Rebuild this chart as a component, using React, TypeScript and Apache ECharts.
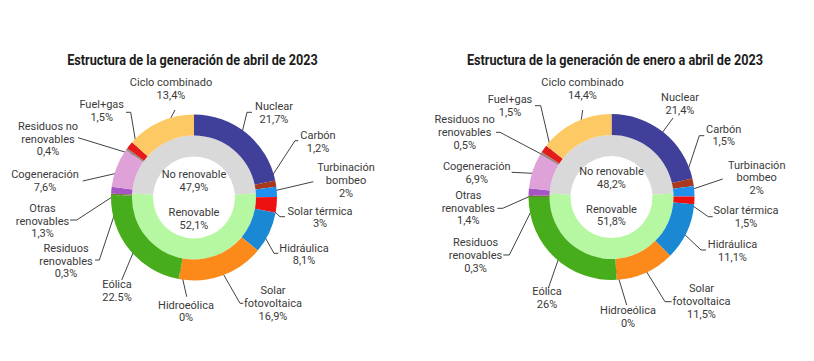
import React, { useEffect, useRef } from "react";
import * as echarts from "echarts";

// ---------- DATA ----------
const categories = [
  "Nuclear",
  "Carbón",
  "Turbinación bombeo",
  "Solar térmica",
  "Hidráulica",
  "Solar fotovoltaica",
  "Hidroeólica",
  "Eólica",
  "Residuos renovables",
  "Otras renovables",
  "Cogeneración",
  "Residuos no renovables",
  "Fuel+gas",
  "Ciclo combinado",
];
const aprilValues = [21.7, 1.2, 2, 3, 8.1, 16.9, 0, 22.5, 0.3, 1.3, 7.6, 0.4, 1.5, 13.4];
const janAprValues = [21.4, 1.5, 2, 1.5, 11.1, 11.5, 0, 26, 0.3, 1.4, 6.9, 0.5, 1.5, 14.4];
const groupNames = ["No renovable", "Renovable"];
const aprilGroups = [47.9, 52.1];
const janAprGroups = [48.2, 51.8];
const titles = [
  "Estructura de la generación de abril de 2023",
  "Estructura de la generación de enero a abril de 2023",
];

// ---------- STYLE / LAYOUT ----------
const colors = [
  "#403f99", "#a8391f", "#1f8ff0", "#ee1111", "#1a88d2", "#fb8a1a", "#5fa3d8",
  "#47ad1c", "#6f7f2a", "#a556c2", "#dea1d8", "#9a8585", "#e41b1b", "#fdc964",
];
const groupColors = ["#d9d9d9", "#b6f7a1"];
const labelText: Record<string, string> = {
  "Turbinación bombeo": "Turbinación\nbombeo",
  "Solar fotovoltaica": "Solar\nfotovoltaica",
  "Residuos renovables": "Residuos\nrenovables",
  "Otras renovables": "Otras\nrenovables",
  "Residuos no renovables": "Residuos no\nrenovables",
};

type Lay = {
  center: [number, number];
  titleX: number;
  groupPos: [number, number][];
  pos: [number, number][];
  line: [number, number][][];
  pointDecimal: string[];
};

const layouts: Lay[] = [
  {
    center: [194, 197.5],
    titleX: 192.5,
    groupPos: [[0, -16.7], [0, 21.7]],
    pos: [
      [80, -84.2], [124, -55.5], [152, -16.8], [126, 19.9], [110, 57], [79, 106], [-8, 114],
      [-77, 93.5], [-128, 63.5], [-151.5, 23.5], [-149, -16.5], [-146, -58.5], [-92.3, -86.5], [-23, -108.5],
    ],
    line: [
      [[53, -85.2], [58, -85.2]],
      [[101, -56.8], [104.3, -56.8]],
      [[119.3, -15.8]],
      [[86, 19.2], [91, 19.2]],
      [[80, 55.8], [84.3, 55.8]],
      [[46, 105.8], [49.3, 105.8]],
      [[-7.3, 99.2]],
      [[-72.3, 82.5]],
      [[-94.7, 62.5], [-99, 62.5]],
      [[-117.3, 22.5], [-124, 22.5]],
      [[-111.3, -16.5]],
      [[-116, -59.8]],
      [[-63.3, -85.2], [-68, -85.2]],
      [[-19, -87.5]],
    ],
    pointDecimal: ["Eólica"],
  },
  {
    center: [611.5, 197],
    titleX: 615,
    groupPos: [[0, -19.2], [0, 18.5]],
    pos: [
      [68.5, -93], [112.2, -61.5], [145.2, -19.2], [134.5, 19.7], [121, 53.8], [90, 104.4], [16.5, 119.7],
      [-64.5, 101], [-136, 58.6], [-143.2, 11.1], [-134.8, -24.3], [-146.8, -64.5], [-101.5, -90.8], [-29, -108.2],
    ],
    line: [
      [[61.5, -79]],
      [[87.8, -61.3], [92.8, -61.3]],
      [[111.2, -18]],
      [[96.8, 19.7], [101.2, 19.7]],
      [[89.5, 53], [94.5, 53]],
      [[53.5, 104.7], [60.2, 104.7]],
      [[15.2, 108]],
      [[-63.2, 91.3]],
      [[-102.2, 58], [-108.2, 58]],
      [[-108.8, 11.3], [-114.2, 11.3]],
      [[-99.8, -24.7]],
      [[-111.5, -64.7], [-115.5, -64.7]],
      [[-70.8, -91.3], [-76.5, -91.3]],
      [[-28.8, -87]],
    ],
    pointDecimal: [],
  },
];

const INNER: [number, number] = [41, 62];
const OUTER: [number, number] = [62, 83];
const LINE_START_R = 73;
const FONT = "Roboto, 'Noto Sans', sans-serif";

function fmt(v: number, point: boolean) {
  const s = String(v);
  return point ? s : s.replace(".", ",");
}

function midPoint(values: number[], i: number, cx: number, cy: number, r: number) {
  const total = values.reduce((a, b) => a + b, 0);
  let cum = 0;
  for (let k = 0; k < i; k++) cum += values[k];
  const ang = ((cum + values[i] / 2) / total) * Math.PI * 2; // clockwise from 12 o'clock
  return [cx + r * Math.sin(ang), cy - r * Math.cos(ang)];
}

function buildSeries(values: number[], groups: number[], lay: Lay) {
  const [cx, cy] = lay.center;
  const inner = {
    type: "pie",
    center: [cx, cy],
    radius: INNER,
    startAngle: 90 + (180 * groups[0]) / 100,
    clockwise: true,
    silent: true,
    avoidLabelOverlap: false,
    data: groupNames.map((n, i) => ({ name: n, value: groups[i], itemStyle: { color: groupColors[i] } })),
    label: {
      show: true,
      position: "inside",
      formatter: (p: any) => `${p.name}\n${fmt(p.value, false)}%`,
      fontSize: 11,
      lineHeight: 12.8,
      color: "#3a3a3a",
      fontFamily: FONT,
    },
    labelLine: { show: false },
    labelLayout: (p: any) => {
      const o = lay.groupPos[p.dataIndex];
      return { x: cx + o[0], y: cy + o[1], align: "center", verticalAlign: "middle" };
    },
  };
  const outer = {
    type: "pie",
    center: [cx, cy],
    radius: OUTER,
    startAngle: 90,
    clockwise: true,
    silent: true,
    avoidLabelOverlap: false,
    minAngle: 0,
    data: categories.map((n, i) => ({ name: n, value: values[i], itemStyle: { color: colors[i] } })),
    label: {
      show: true,
      position: "outside",
      formatter: (p: any) =>
        `${labelText[p.name] || p.name}\n${fmt(p.value, lay.pointDecimal.includes(p.name))}%`,
      fontSize: 11,
      lineHeight: 12.8,
      color: "#3a3a3a",
      fontFamily: FONT,
    },
    labelLine: {
      show: true,
      showAbove: true,
      length: 5,
      length2: 5,
      smooth: false,
      lineStyle: { color: "#2b2b2b", width: 0.9 },
    },
    labelLayout: (p: any) => {
      const i = p.dataIndex;
      const o = lay.pos[i];
      const start = midPoint(values, i, cx, cy, LINE_START_R);
      const pts = [start, ...lay.line[i].map(([dx, dy]) => [cx + dx, cy + dy])];
      return {
        x: cx + o[0],
        y: cy + o[1],
        align: "center",
        verticalAlign: "middle",
        labelLinePoints: pts,
      };
    },
  };
  return [inner, outer];
}

export default function App() {
  const ref = useRef<HTMLDivElement>(null);
  useEffect(() => {
    if (!ref.current) return;
    const chart = echarts.init(ref.current, null, { renderer: "svg" });
    const option: any = {
      animation: false,
      backgroundColor: "#ffffff",
      graphic: titles.map((t, i) => ({
        type: "text",
        x: layouts[i].titleX,
        y: 60,
        scaleX: 0.845,
        silent: true,
        style: {
          text: t,
          font: `bold 15px ${FONT}`,
          fill: "#1c1c1c",
          textAlign: "center",
          textVerticalAlign: "middle",
        },
      })),
      series: [
        ...buildSeries(aprilValues, aprilGroups, layouts[0]),
        ...buildSeries(janAprValues, janAprGroups, layouts[1]),
      ],
    };
    chart.setOption(option);
    return () => chart.dispose();
  }, []);
  return (
    <div
      ref={ref}
      style={{ position: "fixed", left: 0, top: 0, width: 814, height: 361, background: "#fff" }}
    />
  );
}
